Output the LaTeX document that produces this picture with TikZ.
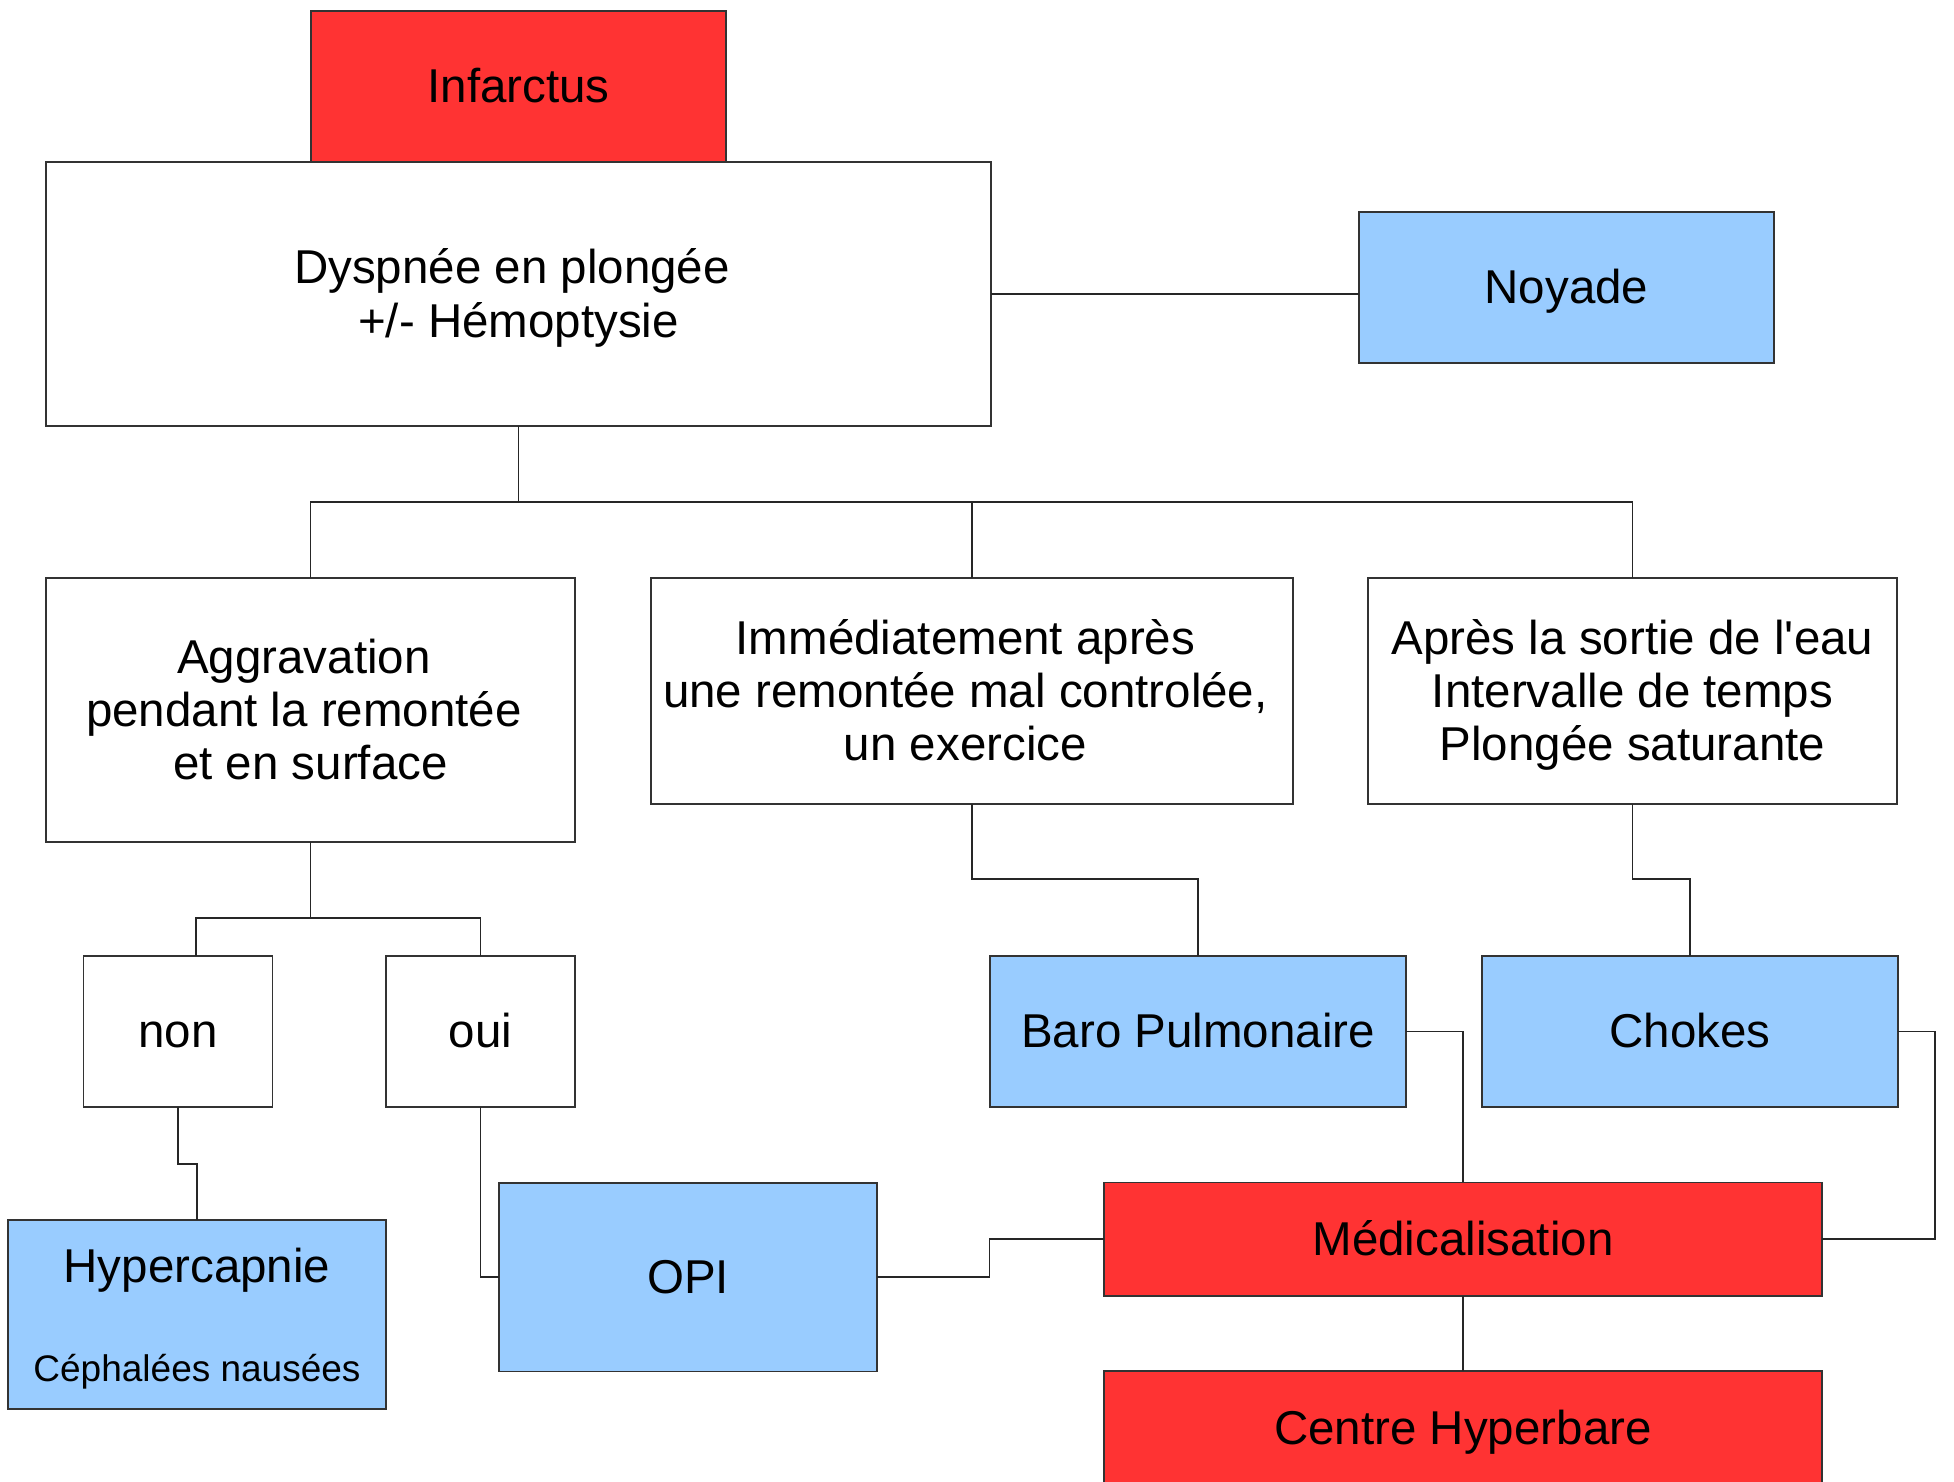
\documentclass[tikz,border=0pt]{standalone}
\usepackage{fontspec}
\setmainfont{Liberation Sans}[Ligatures=TeXOff]
\usepackage{tikz}
\usetikzlibrary{positioning}
\definecolor{rouge}{HTML}{FF3333}
\definecolor{bleu}{HTML}{99CCFF}
\newcommand{\lo}{\rule[-0.212em]{0pt}{1.117em}}
\newcommand{\tsp}{\kern0.278em}
\tikzset{cadre/.style={draw=black!80,line width=1.5pt,inner sep=0pt,outer sep=0pt,align=center,font=\fontsize{47.5}{53}\selectfont},
	question/.style={cadre,fill=white},
	diag/.style={cadre,fill=bleu},
	urgence/.style={cadre,fill=rouge},
	link/.style={draw=black!85,line width=1.3pt}}

\begin{document}
\begin{tikzpicture}[x=1pt,y=-1pt]
		\useasboundingbox (0,0) rectangle (1954,1482);
		\node[question,minimum width=945pt,minimum height=264pt] (Dys) at (518.5,294) {\lo Dyspnée en plongée\tsp\\+/- Hémoptysie\lo};
		\node[urgence,minimum width=415pt,minimum height=151pt,above=0pt of Dys] (Inf) {\lo Infarctus};
		\node[diag,minimum width=415pt,minimum height=151pt] (Noy) at (1566.5,287.5) {\lo Noyade};
		\node[question,minimum width=529pt,minimum height=264pt] (Agg) at (310.5,710) {\lo Aggravation\tsp\\pendant la remontée\tsp\\et en surface\lo};
		\node[question,minimum width=642pt,minimum height=226pt] (Imm) at (972,691) {\lo Immédiatement après\tsp\\une remontée mal controlée,\tsp\\un exercice\tsp\lo};
		\node[question,minimum width=529pt,minimum height=226pt] (Apr) at (1632.5,691) {\lo Après la sortie de l'eau\\Intervalle de temps\\Plongée saturante\lo};
		\node[question,minimum width=189pt,minimum height=151pt] (Non) at (178,1031.5) {\lo non};
		\node[question,minimum width=189pt,minimum height=151pt] (Oui) at (480.5,1031.5) {\lo oui};
		\node[diag,minimum width=416pt,minimum height=151pt] (Baro) at (1198,1031.5) {\lo Baro Pulmonaire};
		\node[diag,minimum width=416pt,minimum height=151pt] (Chok) at (1690,1031.5) {\lo Chokes};
		\node[diag,minimum width=378pt,minimum height=189pt] (Hyp) at (197,1314.5) {\lo Hypercapnie\\[46pt]\fontsize{37}{41}\selectfont\lo Céphalées nausées};
		\node[diag,minimum width=378pt,minimum height=188.5pt] (OPI) at (688,1277) {\lo OPI};
		\node[urgence,minimum width=718pt,minimum height=113.5pt] (Med) at (1463,1239) {\lo Médicalisation};
		\node[urgence,minimum width=718pt,minimum height=114pt,below=75pt of Med] (CH) {\lo Centre Hyperbare};
		\coordinate (t1) at (518.5,502);
		\coordinate (t2) at (310.5,918);
		\draw[link] (Dys.east) -- (Dys.east -| Noy.west);
		\draw[link] (Dys.south) -- (t1);
		\draw[link] (t1) -| (Agg.north);
		\draw[link] (t1) -| (Imm.north);
		\draw[link] (t1) -| (Apr.north);
		\draw[link] (Agg.south) -- (t2);
		\draw[link] (t2) -| ([xshift=18pt]Non.north);
		\draw[link] (t2) -| (Oui.north);
		\draw[link] (Non.south) -- ++(0,57) -| (Hyp.north);
		\draw[link] (Oui.south) |- (OPI.west);
		\draw[link] (Imm.south) -- ++(0,75) -| (Baro.north);
		\draw[link] (Apr.south) -- ++(0,75) -| (Chok.north);
		\draw[link] (Baro.east) -| (Med.north);
		\draw[link] (Chok.east) -- ++(37,0) |- (Med.east);
		\draw[link] (OPI.east) -- ++(112.5,0) |- (Med.west);
		\draw[link] (Med.south) -- (CH.north);
	\end{tikzpicture}
\end{document}
